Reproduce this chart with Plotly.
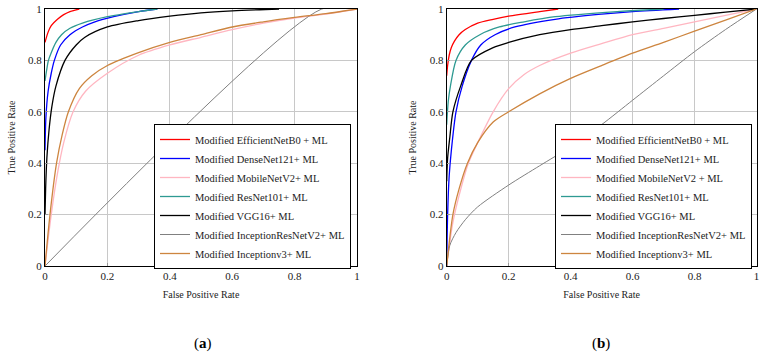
import plotly.graph_objects as go

names = ["Modified EfficientNetB0 + ML", "Modified DenseNet121+ ML", "Modified MobileNetV2+ ML",
         "Modified ResNet101+ ML", "Modified VGG16+ ML", "Modified InceptionResNetV2+ ML",
         "Modified Inceptionv3+ ML"]
names_b = ["Modified EfficientNetB0 + ML", "Modified DenseNet121+ ML", "Modified MobileNetV2 + ML",
           "Modified ResNet101+ ML", "Modified VGG16+ ML", "Modified InceptionResNetV2+ ML",
           "Modified Inceptionv3+ ML"]
colors = ["#ff0000", "#0000ff", "#ffb6c1", "#2e9a92", "#000000", "#808080", "#cd853f"]
widths = [1.3, 1.3, 1.3, 1.3, 1.3, 1.0, 1.3]

# ---- panel (a) ----
a_eff_x = [0, 0.01, 0.02, 0.04, 0.06, 0.08, 0.11]
a_eff_y = [0.87, 0.91, 0.935, 0.96, 0.978, 0.99, 1.0]
a_den_x = [0, 0.003, 0.01, 0.02, 0.03, 0.05, 0.08, 0.12, 0.16, 0.22, 0.3, 0.36]
a_den_y = [0.45, 0.58, 0.68, 0.75, 0.8, 0.86, 0.9, 0.93, 0.95, 0.97, 0.99, 1.0]
a_mob_x = [0, 0.02, 0.04, 0.06, 0.09, 0.13, 0.2, 0.3, 0.4, 0.5, 0.6, 0.7, 0.8, 0.9, 1.0]
a_mob_y = [0, 0.2, 0.36, 0.48, 0.6, 0.68, 0.75, 0.82, 0.86, 0.89, 0.92, 0.945, 0.965, 0.98, 1.0]
a_res_x = [0, 0.005, 0.011, 0.02, 0.035, 0.053, 0.08, 0.12, 0.2, 0.3, 0.36]
a_res_y = [0.72, 0.76, 0.8, 0.83, 0.87, 0.9, 0.925, 0.945, 0.97, 0.99, 1.0]
a_vgg_x = [0, 0.002, 0.006, 0.013, 0.022, 0.035, 0.064, 0.1, 0.128, 0.2, 0.3, 0.4, 0.5, 0.6, 0.75]
a_vgg_y = [0.2, 0.3, 0.42, 0.53, 0.62, 0.7, 0.8, 0.86, 0.89, 0.93, 0.955, 0.972, 0.985, 0.993, 1.0]
a_irn_x = [0, 0.887, 1.0]
a_irn_y = [0, 1.0, 1.0]
a_inc_x = [0, 0.016, 0.037, 0.055, 0.075, 0.11, 0.15, 0.2, 0.3, 0.4, 0.5, 0.6, 0.7, 0.8, 0.9, 1.0]
a_inc_y = [0, 0.2, 0.4, 0.51, 0.6, 0.69, 0.74, 0.78, 0.83, 0.87, 0.9, 0.93, 0.95, 0.967, 0.982, 1.0]

# ---- panel (b) ----
b_eff_x = [0, 0.003, 0.008, 0.015, 0.025, 0.04, 0.06, 0.1, 0.15, 0.2, 0.3, 0.36]
b_eff_y = [0.74, 0.78, 0.82, 0.85, 0.875, 0.9, 0.92, 0.945, 0.96, 0.972, 0.99, 1.0]
b_den_x = [0, 0.003, 0.008, 0.015, 0.03, 0.05, 0.08, 0.11, 0.156, 0.22, 0.35, 0.5, 0.6, 0.75]
b_den_y = [0, 0.2, 0.35, 0.45, 0.6, 0.7, 0.8, 0.86, 0.9, 0.93, 0.96, 0.98, 0.99, 1.0]
b_mob_x = [0, 0.02, 0.05, 0.07, 0.1, 0.15, 0.2, 0.25, 0.3, 0.4, 0.5, 0.6, 0.7, 0.8, 0.9, 1.0]
b_mob_y = [0, 0.17, 0.32, 0.4, 0.48, 0.6, 0.69, 0.745, 0.78, 0.828, 0.865, 0.9, 0.925, 0.95, 0.975, 1.0]
b_res_x = [0, 0.005, 0.012, 0.03, 0.06, 0.107, 0.17, 0.25, 0.35, 0.55, 0.7]
b_res_y = [0.55, 0.64, 0.7, 0.8, 0.86, 0.9, 0.93, 0.95, 0.97, 0.99, 1.0]
b_vgg_x = [0, 0.003, 0.01, 0.02, 0.045, 0.08, 0.15, 0.2, 0.3, 0.4, 0.5, 0.6, 0.7, 0.8, 0.9, 1.0]
b_vgg_y = [0.33, 0.42, 0.5, 0.6, 0.7, 0.8, 0.85, 0.87, 0.9, 0.92, 0.935, 0.95, 0.963, 0.975, 0.988, 1.0]
b_irn_x = [0, 0.01, 0.03, 0.06, 0.1, 0.2, 0.3, 0.4, 0.5, 0.6, 0.7, 0.8, 0.9, 1.0]
b_irn_y = [0, 0.08, 0.13, 0.18, 0.23, 0.315, 0.39, 0.464, 0.55, 0.645, 0.74, 0.834, 0.92, 1.0]
b_inc_x = [0, 0.02, 0.04, 0.067, 0.1, 0.15, 0.2, 0.3, 0.4, 0.5, 0.6, 0.7, 0.8, 0.9, 1.0]
b_inc_y = [0, 0.2, 0.3, 0.4, 0.48, 0.56, 0.6, 0.67, 0.73, 0.78, 0.828, 0.87, 0.914, 0.957, 1.0]

tick_vals = [0, 0.2, 0.4, 0.6, 0.8, 1.0]
tick_text = ["0", "0.2", "0.4", "0.6", "0.8", "1"]

panel_a = [(a_eff_x, a_eff_y), (a_den_x, a_den_y), (a_mob_x, a_mob_y), (a_res_x, a_res_y),
           (a_vgg_x, a_vgg_y), (a_irn_x, a_irn_y), (a_inc_x, a_inc_y)]
panel_b = [(b_eff_x, b_eff_y), (b_den_x, b_den_y), (b_mob_x, b_mob_y), (b_res_x, b_res_y),
           (b_vgg_x, b_vgg_y), (b_irn_x, b_irn_y), (b_inc_x, b_inc_y)]

W, H = 764, 359


def px(xpix):
    return xpix / W


def py(ypix):
    return 1 - ypix / H


FONT = "Liberation Serif, DejaVu Serif, serif"
fig = go.Figure()
for i, (x, y) in enumerate(panel_a):
    fig.add_trace(go.Scatter(x=x, y=y, mode="lines", name=names[i],
                             line=dict(color=colors[i], width=widths[i], shape="spline", smoothing=0.8),
                             xaxis="x", yaxis="y", legend="legend"))
for i, (x, y) in enumerate(panel_b):
    fig.add_trace(go.Scatter(x=x, y=y, mode="lines", name=names_b[i],
                             line=dict(color=colors[i], width=widths[i], shape="spline", smoothing=0.8),
                             xaxis="x2", yaxis="y2", legend="legend2"))

axis_common = dict(range=[0, 1], tickvals=tick_vals, ticktext=tick_text, showgrid=True,
                   gridcolor="#c8c8c8", gridwidth=1, zeroline=False, showline=True,
                   linecolor="black", linewidth=1, mirror=True, automargin=False,
                   ticks="inside", ticklen=3, tickcolor="#999999", ticklabeloverflow="allow",
                   tickfont=dict(family=FONT, size=11, color="#222222"))

title_font = dict(family=FONT, size=10, color="#222222")
fig.update_layout(
    template="none",
    width=W, height=H, margin=dict(l=0, r=0, t=0, b=0, autoexpand=False),
    plot_bgcolor="white", paper_bgcolor="white",
    font=dict(family=FONT, color="black"),
    xaxis=dict(domain=[px(45), px(357)], anchor="y",
               title=dict(text="False Positive Rate", font=title_font, standoff=9),
               **axis_common),
    yaxis=dict(domain=[py(266), py(9)], anchor="x",
               title=dict(text="True Positive Rate", font=title_font, standoff=10),
               **axis_common),
    xaxis2=dict(domain=[px(446.7), px(756.5)], anchor="y2",
                title=dict(text="False Positive Rate", font=title_font, standoff=9),
                **axis_common),
    yaxis2=dict(domain=[py(266), py(9)], anchor="x2",
                title=dict(text="True Positive Rate", font=title_font, standoff=11),
                **axis_common),
    legend=dict(x=px(154), y=py(124), xanchor="left", yanchor="top", bgcolor="white",
                bordercolor="black", borderwidth=1, font=dict(family=FONT, size=10.5, color="#222222"),
                entrywidth=166, entrywidthmode="pixels"),
    legend2=dict(x=px(555), y=py(124), xanchor="left", yanchor="top", bgcolor="white",
                 bordercolor="black", borderwidth=1, font=dict(family=FONT, size=10.5, color="#222222"),
                 entrywidth=157, entrywidthmode="pixels"),
    annotations=[
        dict(text="(<b>a</b>)", x=px(203), y=py(343), xref="paper", yref="paper",
             showarrow=False, xanchor="center", yanchor="middle",
             font=dict(family=FONT, size=15, color="black")),
        dict(text="(<b>b</b>)", x=px(601), y=py(343), xref="paper", yref="paper",
             showarrow=False, xanchor="center", yanchor="middle",
             font=dict(family=FONT, size=15, color="black")),
    ],
)

fig.write_html("out.html", config={"displayModeBar": False},
               post_script="document.body.style.margin='0';")
